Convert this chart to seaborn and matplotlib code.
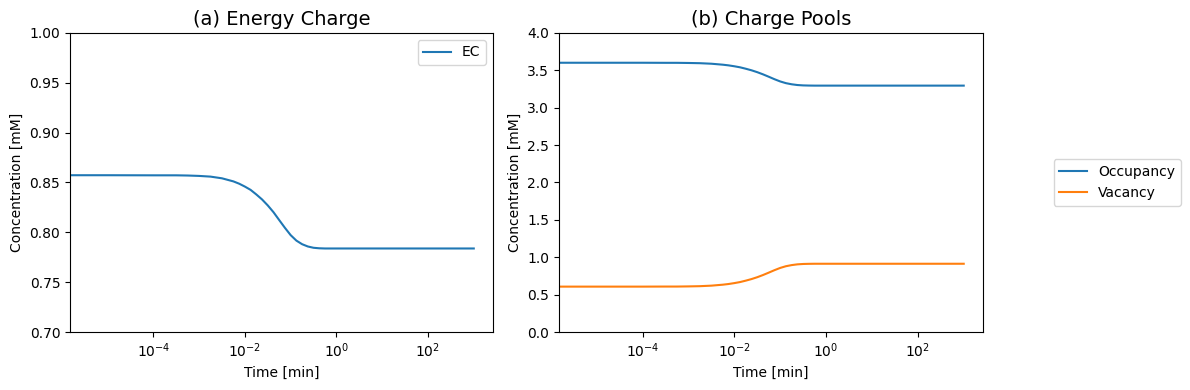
import numpy as np
import pandas as pd
import seaborn as sns
import matplotlib
matplotlib.use("Agg")
import matplotlib.pyplot as plt
from matplotlib.ticker import NullLocator

# ============================== DATA ==============================

# sample positions as log10(time [min]); the first sample is t = 0
log10_time = [-5.4, -5.0, -4.0, -3.5, -3.25, -3.0, -2.75, -2.5, -2.25, -2.125,
              -2.0, -1.875, -1.75, -1.625, -1.5, -1.375, -1.25, -1.125, -1.0, -0.875,
              -0.75, -0.625, -0.5, -0.375, -0.25, 0.0, 1.0, 2.0, 3.0]
time_min = [0.0] + [10 ** v for v in log10_time]

energy_charge = [0.8573, 0.8573, 0.8573, 0.8572, 0.8572, 0.8570, 0.8566, 0.8559, 0.8542, 0.8511,
                 0.8488, 0.8459, 0.8426, 0.8380, 0.8330, 0.8270, 0.8202, 0.8123, 0.8045, 0.7972,
                 0.7917, 0.7881, 0.7858, 0.7845, 0.7840, 0.7838, 0.7838, 0.7838, 0.7838, 0.7838]

occupancy = [3.602, 3.602, 3.602, 3.602, 3.601, 3.601, 3.599, 3.596, 3.589, 3.576,
             3.567, 3.555, 3.541, 3.522, 3.501, 3.476, 3.447, 3.415, 3.382, 3.352,
             3.329, 3.314, 3.304, 3.299, 3.297, 3.296, 3.296, 3.296, 3.296, 3.296]

vacancy = [0.607, 0.607, 0.607, 0.607, 0.608, 0.608, 0.610, 0.613, 0.620, 0.633,
           0.642, 0.654, 0.668, 0.687, 0.708, 0.733, 0.762, 0.794, 0.827, 0.857,
           0.880, 0.895, 0.905, 0.910, 0.912, 0.913, 0.913, 0.913, 0.913, 0.913]

titles = ["(a) Energy Charge", "(b) Charge Pools"]
x_ticks = [1e-4, 1e-2, 1e0, 1e2]

# ======================================== PLOTTING ========================================

ec_df = pd.DataFrame({"Time": time_min, "Value": energy_charge, "Series": "EC"})
pools_df = pd.concat([
    pd.DataFrame({"Time": time_min, "Value": occupancy, "Series": "Occupancy"}),
    pd.DataFrame({"Time": time_min, "Value": vacancy, "Series": "Vacancy"}),
], ignore_index=True)

colors = ["#1f77b4", "#ff7f0e"]

fig = plt.figure(figsize=(11.9, 3.9), dpi=100)
ax1 = fig.add_axes([70 / 1190, 58 / 390, 423 / 1190, 299 / 390])
ax2 = fig.add_axes([559 / 1190, 58 / 390, 424 / 1190, 299 / 390])

sns.lineplot(data=ec_df, x="Time", y="Value", hue="Series", palette=colors[:1],
             estimator=None, sort=False, ax=ax1)
sns.lineplot(data=pools_df, x="Time", y="Value", hue="Series", palette=colors,
             estimator=None, sort=False, ax=ax2)

for ax, title in zip([ax1, ax2], titles):
    ax.set_xscale("log")
    ax.set_xlim(10 ** -5.82, 10 ** 3.42)
    ax.set_xticks(x_ticks)
    ax.xaxis.set_minor_locator(NullLocator())
    ax.set_title(title, fontsize=14)
    ax.set_xlabel("Time [min]")
    ax.set_ylabel("Concentration [mM]")

ax1.set_ylim(0.70, 1.00)
ax2.set_ylim(0.0, 4.0)

ax1.legend(loc="upper right")
ax2.legend(loc="center left", bbox_to_anchor=(1.15, 0.5))

fig.savefig("out.png", dpi=100)
